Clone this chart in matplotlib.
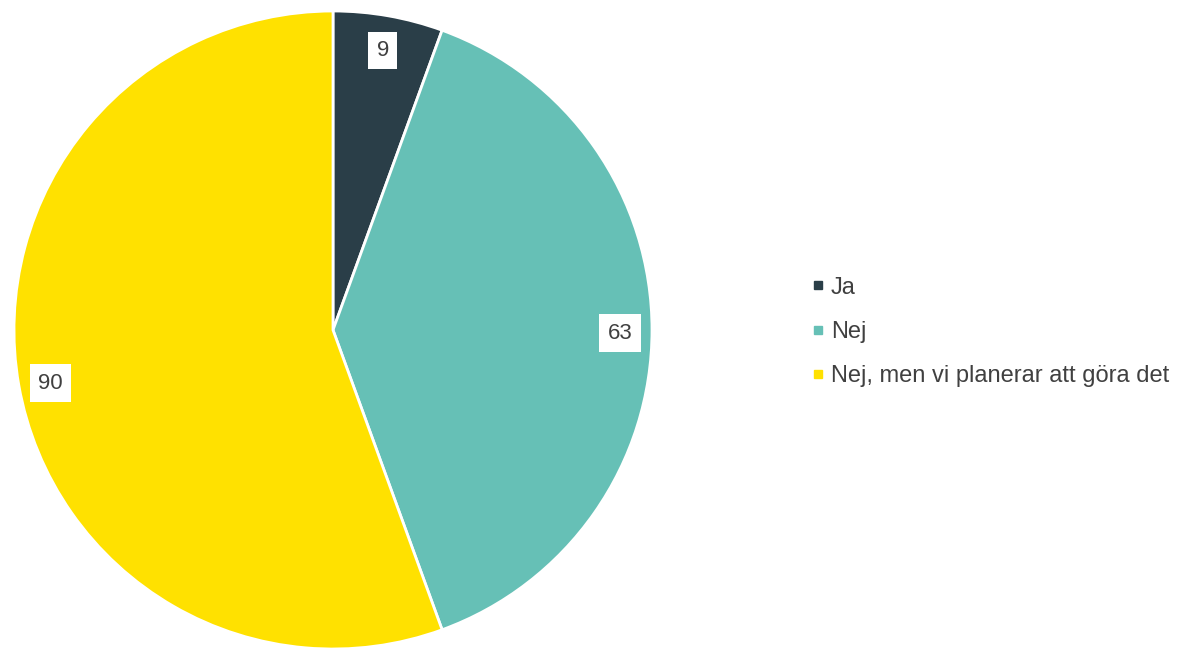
import numpy as np
import matplotlib.pyplot as plt
from matplotlib.lines import Line2D

plt.rcParams['font.family'] = ['Liberation Sans', 'DejaVu Sans']

labels = ["Ja", "Nej", "Nej, men vi planerar att göra det"]
values = [9, 63, 90]
colors = ["#2a3e48", "#66c0b6", "#ffe100"]
text_color = "#404040"

fig = plt.figure(figsize=(11.79, 6.49), dpi=100)
ax = fig.add_axes([14 / 1179, 0.0, 638 / 1179, 638 / 649])

wedges, _ = ax.pie(values, colors=colors, startangle=90, counterclock=False,
                   radius=1.0, wedgeprops=dict(edgecolor="white", linewidth=2))
ax.set_xlim(-1.0, 1.0)
ax.set_ylim(-1.0, 1.0)
ax.set_aspect("equal")
ax.axis("off")

# data labels in white boxes
for w, v in zip(wedges, values):
    mid = np.deg2rad((w.theta1 + w.theta2) / 2)
    r = 0.9
    ax.text(r * np.cos(mid), r * np.sin(mid) - 0.01, str(v), ha="center", va="center",
            fontsize=16, color=text_color,
            bbox=dict(facecolor="white", edgecolor="none", pad=6))

handles = [Line2D([], [], marker="s", linestyle="none", markersize=6,
                  markerfacecolor=c, markeredgecolor=c) for c in colors]
fig.legend(handles, labels, loc="center left", bbox_to_anchor=(800 / 1179, 1 - 332 / 649),
           frameon=False, fontsize=17, labelcolor=text_color, handlelength=0.5,
           handletextpad=0.3, labelspacing=0.95, borderpad=0)

fig.savefig("out.png", dpi=100)
